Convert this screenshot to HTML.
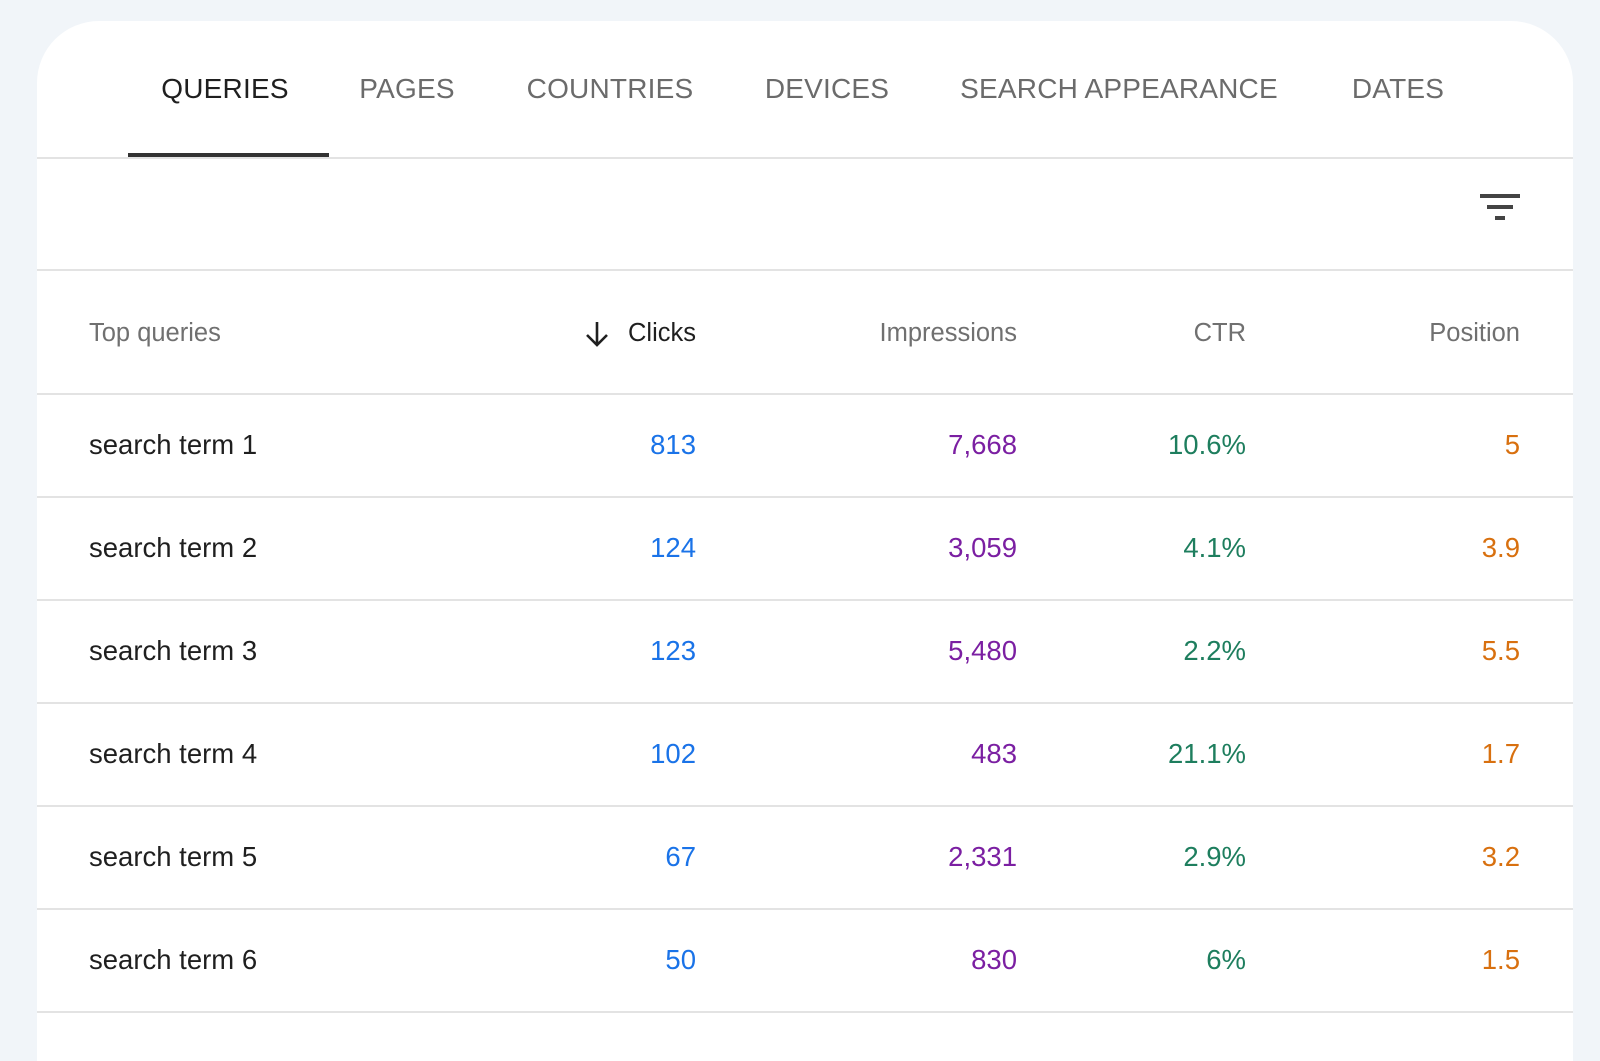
<!DOCTYPE html>
<html><head><style>
body{margin:0;width:1600px;height:1029px;background:#f1f5f9;font-family:"Liberation Sans",sans-serif;overflow:hidden;position:relative}
.card{position:absolute;left:37px;top:21px;width:1536px;height:1040px;background:#fff;border-radius:62px 62px 0 0}
.t{position:absolute;white-space:nowrap}
.tab{top:73px;font-size:28px;color:#6b6b6b;transform:translateX(-50%);letter-spacing:0.2px}
.hl{position:absolute;left:37px;width:1536px;height:2px;background:#e3e3e3}
.h{top:319px;font-size:25.5px;color:#707070}
.r{font-size:27.5px}
</style></head><body>
<div class="card"></div>
<div class="t tab" style="left:225px;color:#1f1f1f">QUERIES</div>
<div class="t tab" style="left:407px">PAGES</div>
<div class="t tab" style="left:610px">COUNTRIES</div>
<div class="t tab" style="left:827px">DEVICES</div>
<div class="t tab" style="left:1119px">SEARCH APPEARANCE</div>
<div class="t tab" style="left:1398px">DATES</div>
<div class="hl" style="top:157px"></div>
<div style="position:absolute;left:128px;top:153px;width:201px;height:4px;background:#333"></div>
<div style="position:absolute;left:1480px;top:194px;width:40px;height:4px;background:#444"></div>
<div style="position:absolute;left:1487px;top:205px;width:26px;height:4px;background:#444"></div>
<div style="position:absolute;left:1495px;top:216px;width:10px;height:4px;background:#444"></div>
<div class="hl" style="top:269px"></div>
<div class="t h" style="left:89px">Top queries</div>
<svg style="position:absolute;left:584px;top:320px" width="26" height="28" viewBox="0 0 26 28"><path d="M13 2V25M3 15L13 25L23 15" stroke="#1f1f1f" stroke-width="2.6" fill="none"/></svg>
<div class="t h" style="right:904px;color:#1f1f1f">Clicks</div>
<div class="t h" style="right:583px">Impressions</div>
<div class="t h" style="right:354px">CTR</div>
<div class="t h" style="right:80px">Position</div>
<div class="hl" style="top:393px"></div>
<div id="rows"></div>
<script>
var d=[["813","7,668","10.6%","5"],["124","3,059","4.1%","3.9"],["123","5,480","2.2%","5.5"],["102","483","21.1%","1.7"],["67","2,331","2.9%","3.2"],["50","830","6%","1.5"]];
var h="";
d.forEach(function(r,i){var y=429+i*103;
h+='<div class="t r" style="top:'+y+'px;left:89px;color:#1f1f1f">search term '+(i+1)+'</div>';
h+='<div class="t r" style="top:'+y+'px;right:904px;color:#1a73e8">'+r[0]+'</div>';
h+='<div class="t r" style="top:'+y+'px;right:583px;color:#7b1fa2">'+r[1]+'</div>';
h+='<div class="t r" style="top:'+y+'px;right:354px;color:#1e7e5e">'+r[2]+'</div>';
h+='<div class="t r" style="top:'+y+'px;right:80px;color:#d8700f">'+r[3]+'</div>';
h+='<div class="hl" style="top:'+(496+i*103)+'px"></div>';});
document.getElementById("rows").innerHTML=h;
</script>
</body></html>
